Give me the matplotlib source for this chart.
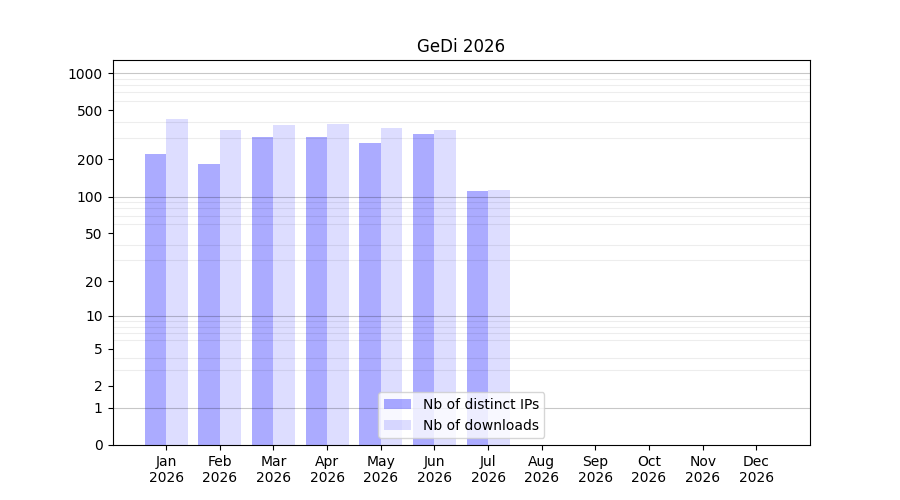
import numpy as np
import matplotlib
matplotlib.use("Agg")
import matplotlib.pyplot as plt
from matplotlib.ticker import FixedLocator, FixedFormatter, NullFormatter

months = ["Jan", "Feb", "Mar", "Apr", "May", "Jun", "Jul", "Aug", "Sep", "Oct", "Nov", "Dec"]
year = "2026"
distinct_ips = [222, 184, 304, 304, 272, 321, 111, 0, 0, 0, 0, 0]
downloads = [425, 346, 380, 387, 359, 346, 113, 0, 0, 0, 0, 0]
ytick_values = [0, 1, 2, 5, 10, 20, 50, 100, 200, 500, 1000]

fig, ax = plt.subplots(figsize=(9, 5), dpi=100)

fwd = lambda v: np.log10(1 + np.clip(v, -0.999999, None))
inv = lambda y: 10 ** y - 1
ax.set_yscale("function", functions=(fwd, inv))

x = np.arange(len(months))
w = 0.4
ax.bar(x - w / 2, distinct_ips, width=w, color="blue", alpha=0.33, label="Nb of distinct IPs")
ax.bar(x + w / 2, downloads, width=w, color="blue", alpha=0.133, label="Nb of downloads")

ax.set_xticks(x)
ax.set_xticklabels([f"{m}\n{year}" for m in months])
ax.set_xlim(-1, len(months))

ax.set_ylim(0, max(downloads) * 3)
ax.yaxis.set_major_locator(FixedLocator(ytick_values))
ax.yaxis.set_major_formatter(FixedFormatter([str(v) for v in ytick_values]))
minor = [m * 10 ** k for k in range(0, 4) for m in range(2, 10)]
ax.yaxis.set_minor_locator(FixedLocator(minor))
ax.yaxis.set_minor_formatter(NullFormatter())
ax.tick_params(axis="y", which="minor", length=0)
ax.grid(axis="y", which="minor", color="black", alpha=0.07, linewidth=0.8)
for d in [1, 10, 100, 1000]:
    ax.axhline(d, color="black", alpha=0.22, linewidth=0.8)

ax.set_title("GeDi 2026")
ax.legend(loc="lower center")

fig.savefig("out.png")
